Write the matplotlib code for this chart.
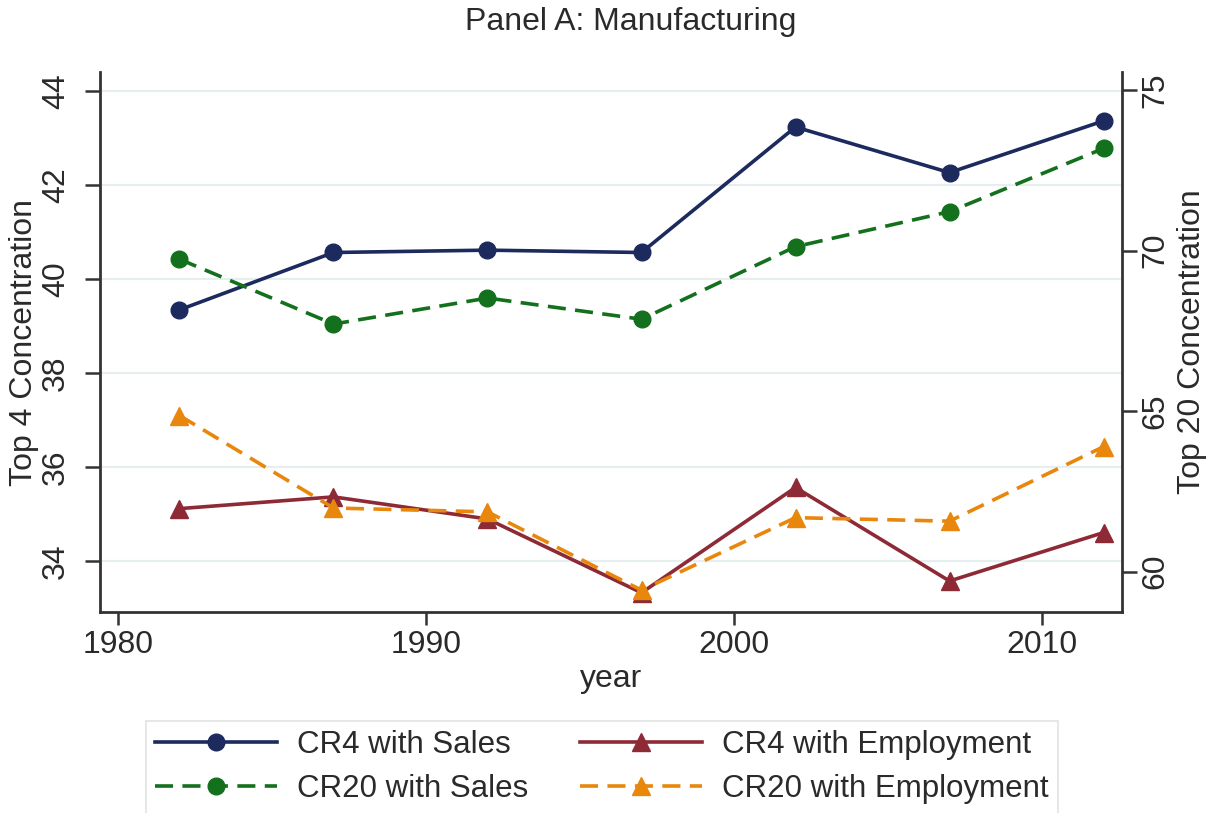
import matplotlib
matplotlib.use("Agg")
import matplotlib.pyplot as plt
from matplotlib.lines import Line2D

plt.rcParams['font.family'] = ['Liberation Sans', 'DejaVu Sans']

years = [1982, 1987, 1992, 1997, 2002, 2007, 2012]
cr4_sales = [39.34, 40.56, 40.61, 40.56, 43.23, 42.26, 43.36]
cr4_emp = [35.11, 35.36, 34.89, 33.32, 35.56, 33.57, 34.60]
cr20_sales = [69.73, 67.71, 68.52, 67.86, 70.12, 71.21, 73.18]
cr20_emp = [64.86, 61.98, 61.86, 59.42, 61.68, 61.57, 63.89]

xticks = [1980, 1990, 2000, 2010]
left_ticks = [34, 36, 38, 40, 42, 44]
right_ticks = [60, 65, 70, 75]

title = "Panel A: Manufacturing"
xlabel = "year"
ylabel_left = "Top 4 Concentration"
ylabel_right = "Top 20 Concentration"
labels = ["CR4 with Sales", "CR4 with Employment", "CR20 with Sales", "CR20 with Employment"]

c_navy = "#1c2a5e"
c_green = "#13701c"
c_maroon = "#8e2a36"
c_orange = "#e8870c"
fs = 23
txtcol = "#2a2a2a"
axcol = "#333333"

fig = plt.figure(figsize=(12.11, 8.13), dpi=100)
ax = fig.add_axes([0.0826, 0.2472, 0.8439, 0.6642])
ax2 = ax.twinx()

ax.set_xlim(1979.42, 2012.6)
ax.set_ylim(32.91, 44.40)
ax2.set_ylim(58.74, 75.56)

lw = 2.6
dash = (5, 2.6)
ms_c, ms_t = 12, 13.5
ax.plot(years, cr4_sales, color=c_navy, lw=lw, marker='o', ms=ms_c, zorder=5)
ax.plot(years, cr4_emp, color=c_maroon, lw=lw, marker='^', ms=ms_t, zorder=5)
ax2.plot(years, cr20_sales, color=c_green, lw=lw, ls=(0, dash), marker='o', ms=ms_c, zorder=5)
ax2.plot(years, cr20_emp, color=c_orange, lw=lw, ls=(0, dash), marker='^', ms=ms_t, zorder=5)

ax.set_xticks(xticks)
ax.set_yticks(left_ticks)
ax2.set_yticks(right_ticks)
ax.grid(axis='y', color='#e6eeef', lw=1.6)
ax.set_axisbelow(True)

for a in (ax, ax2):
    a.spines['top'].set_visible(False)
    for s in ('left', 'right', 'bottom'):
        a.spines[s].set_color(axcol)
        a.spines[s].set_linewidth(2)
    a.tick_params(width=1.8, color=axcol, labelsize=fs, labelcolor=txtcol)
ax.spines['right'].set_visible(False)
ax2.spines['left'].set_visible(False)
ax2.spines['bottom'].set_visible(False)

ax.tick_params(axis='y', labelrotation=90, pad=10, length=11)
ax2.tick_params(axis='y', labelrotation=90, pad=2, length=11)
for t in ax.get_yticklabels():
    t.set_va('center')
for t in ax2.get_yticklabels():
    t.set_va('center')
ax.tick_params(axis='x', pad=4, length=9)

ax.set_xlabel(xlabel, fontsize=fs, color=txtcol, labelpad=3)
ax.set_ylabel(ylabel_left, fontsize=fs, color=txtcol, labelpad=1)
ax2.set_ylabel(ylabel_right, fontsize=fs, color=txtcol, labelpad=5, rotation=90)
fig.text(0.521, 0.973, title, fontsize=fs, color=txtcol, ha='center', va='center')

h_cs = Line2D([], [], color=c_navy, lw=lw, marker='o', ms=ms_c)
h_ce = Line2D([], [], color=c_maroon, lw=lw, marker='^', ms=ms_t)
h_gs = Line2D([], [], color=c_green, lw=lw, ls=(0, dash), marker='o', ms=ms_c)
h_ge = Line2D([], [], color=c_orange, lw=lw, ls=(0, dash), marker='^', ms=ms_t)
# column-major fill: col 1 = Sales, col 2 = Employment
handles = [h_cs, h_gs, h_ce, h_ge]
leg_labels = [labels[0], labels[2], labels[1], labels[3]]
leg = fig.legend(handles, leg_labels, ncol=2, loc='upper center', bbox_to_anchor=(0.497, 0.1132),
                 borderaxespad=0, fontsize=22.5, frameon=True, fancybox=False, edgecolor='#dcdcdc',
                 handlelength=3.9, columnspacing=1.66, labelspacing=0.45, handletextpad=0.64,
                 borderpad=0.3, numpoints=1)
leg.get_frame().set_linewidth(1.2)
for t in leg.get_texts():
    t.set_color(txtcol)

fig.savefig("out.png", dpi=100)
